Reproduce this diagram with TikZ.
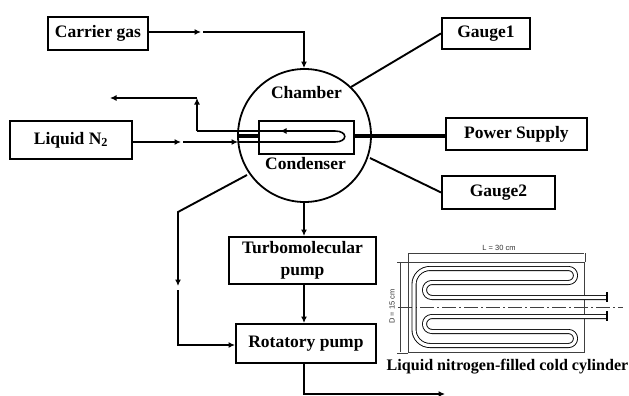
\documentclass[tikz,border=0pt]{standalone}
\usepackage{fontspec}
\setmainfont{Liberation Serif}
\newfontfamily\labelsans{Liberation Sans}
\usetikzlibrary{arrows.meta}
\tikzset{
 lbl/.style={font=\fontsize{17.5}{22}\selectfont\bfseries,inner sep=0pt,align=center},
 boxn/.style={draw,line width=1.9pt,lbl,inner sep=0pt,anchor=north west},
 conn/.style={line width=1.9pt,line join=miter},
 tipped/.style={conn,-{Latex[length=6.5pt,width=6pt]}},
 thickline/.style={line width=4pt},
 tube/.style={line width=0.9pt,double=white,double distance=3.2pt,line join=round},
 thin1/.style={line width=0.8pt,black!75},
 tiny1/.style={font=\labelsans\fontsize{7.5}{8}\selectfont,inner sep=0pt,text=black!80},
 capt/.style={font=\fontsize{16.1}{18}\selectfont\bfseries,inner sep=0pt}
}
\begin{document}
\begin{tikzpicture}[x=1pt,y=-1pt]
\useasboundingbox (0,0) rectangle (629,396);
\node[boxn,minimum width=100pt,minimum height=33pt] (carrier) at (47,16) {Carrier gas};
\node[boxn,minimum width=122pt,minimum height=38pt] (liquid) at (9,120) {Liquid N\textsubscript{2}};
\node[boxn,minimum width=88pt,minimum height=31pt] (gauge1) at (441,17) {Gauge1};
\node[boxn,minimum width=141pt,minimum height=32pt] (power) at (445,117) {Power Supply};
\node[boxn,minimum width=113pt,minimum height=33pt] (gauge2) at (441,175) {Gauge2};
\node[boxn,minimum width=147pt,minimum height=47pt] (turbo) at (228,236) {Turbomolecular\\pump};
\node[boxn,minimum width=140pt,minimum height=39pt] (rot) at (235,323) {Rotatory pump};
\node[draw,circle,line width=1.8pt,minimum size=133pt,inner sep=0pt] (chamber) at (304.5,135.5) {};
\node[draw,line width=1.5pt,minimum width=95pt,minimum height=33pt,inner sep=0pt,anchor=north west] (cond) at (258,120) {};
\node[lbl] (chl) at (306.5,92.5) {Chamber};
\node[lbl] (col) at (305.5,163.5) {Condenser};
% named connector points
\coordinate (a1) at (201,32);
\coordinate (a2) at (203,32);
\coordinate (a3) at (304,32);
\coordinate (b1) at (181,142);
\coordinate (b2) at (183,142);
\coordinate (b3) at (238,142);
\coordinate (c6) at (335,142);
\coordinate (c5) at (335,131);
\coordinate (c2) at (197,131);
\coordinate (c3) at (197,98);
\coordinate (c4) at (110,98);
\coordinate (t1) at (280,131);
\coordinate (g1) at (351,87);
\coordinate (g2) at (370,158);
\coordinate (d0) at (247,175);
\coordinate (d1) at (178,212);
\coordinate (d2) at (178,286);
\coordinate (d3) at (178,290);
\coordinate (d4) at (178,345);
\coordinate (c9) at (304,394);
\coordinate (c10) at (445,394);
\coordinate (thL) at (238,136);
% carrier gas
\draw[tipped] (carrier.east |- a1) -- (a1);
\draw[tipped] (a2) -- (a3) -- (a3 |- chamber.north);
% liquid N2
\draw[tipped] (liquid.east |- b1) -- (b1);
\draw[tipped] (b2) -- (b3);
\draw[conn,line width=1.6pt] (b3) -- (c6) .. controls (348,142) and (348,131) .. (c5) -- (c2);
\draw[tipped,line width=1.6pt] (c5) -- (t1);
\draw[tipped] (c2) -- (c3);
\draw[tipped] (c3) -- (c4);
% thick
\draw[thickline] (thL) -- (cond.west |- thL);
\draw[thickline] (cond.east |- thL) -- (power.west |- thL);
% gauges
\draw[conn] (g1) -- (gauge1.west);
\draw[conn] (g2) -- (gauge2.west);
% vacuum
\draw[tipped] (c9 |- chamber.south) -- (c9 |- turbo.north);
\draw[tipped] (c9 |- turbo.south) -- (c9 |- rot.north);
\draw[tipped] (d0) -- (d1) -- (d2);
\draw[tipped] (d3) -- (d4) -- (rot.west |- d4);
\draw[tipped] (rot.south -| c9) -- (c9) -- (c10);
% inset
\node[draw,thin1,minimum width=176pt,minimum height=90pt,inner sep=0pt,anchor=north west] (cyl) at (408,262) {};
\node[tiny1] (ldim) at (499,248) {L = 30 cm};
\node[tiny1,rotate=90] (ddim) at (392,306.5) {D = 15 cm};
\draw[thin1,line width=0.6pt] (cyl.north west) ++(0,-9) -- ++(176,0);
\draw[thin1,line width=0.6pt] (cyl.north west) -- ++(0,-9) (cyl.north east) -- ++(0,-9);
\draw[thin1,line width=0.6pt] (cyl.north west) ++(-8,0) -- ++(0,90);
\draw[thin1,line width=0.6pt] (cyl.north west) -- ++(-11,0) (cyl.south west) -- ++(-11,0);
\draw[line width=0.7pt,black!75,dash pattern=on 14pt off 3pt on 2pt off 3pt] (398,307) -- (623,307);
\draw[tube] (607,297.5) -- (432,297.5) arc[start angle=270,end angle=90,radius=7.5pt] -- (568.5,282.5)
  arc[start angle=-90,end angle=90,radius=7pt] -- (430,268.5)
  arc[start angle=90,end angle=180,radius=16pt] -- (414,329.5)
  arc[start angle=180,end angle=270,radius=16pt] -- (568.5,345.5)
  arc[start angle=-90,end angle=90,radius=7pt] -- (432,331.5)
  arc[start angle=270,end angle=90,radius=7.5pt] -- (607,316.5);
\draw[line width=1.6pt] (607,292) -- (607,302) (607,311) -- (607,321);
\node[capt] (cap) at (507.5,366.5) {Liquid nitrogen-filled cold cylinder};
\end{tikzpicture}
\end{document}
